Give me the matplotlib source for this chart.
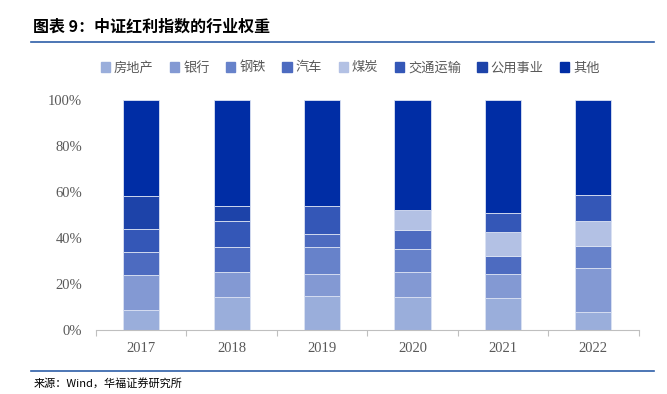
import numpy as np
import matplotlib
matplotlib.use("Agg")
import matplotlib.pyplot as plt
from matplotlib.lines import Line2D

plt.rcParams['font.family'] = ['Noto Sans CJK SC', 'DejaVu Sans']

years = ["2017", "2018", "2019", "2020", "2021", "2022"]
sectors = ["房地产", "银行", "钢铁", "汽车", "煤炭", "交通运输", "公用事业", "其他"]
colors = ["#9aaedb", "#8399d3", "#6782ca", "#4d6bc0", "#b3c1e4", "#3457b7", "#1d43a9", "#002da5"]

# weights (%), bottom to top
real_estate = [8.9, 14.4, 15.0, 14.6, 14.1, 8.2]
banks       = [15.2, 10.9, 9.4, 10.8, 10.5, 19.0]
steel       = [0.0, 0.0, 11.8, 10.0, 0.0, 9.5]
autos       = [10.0, 10.9, 5.8, 8.4, 7.5, 0.0]
coal        = [0.0, 0.0, 0.0, 8.3, 10.7, 10.6]
transport   = [10.0, 11.4, 12.1, 0.0, 8.2, 11.6]
utilities   = [14.4, 6.5, 0.0, 0.0, 0.0, 0.0]
others      = [41.5, 45.9, 45.9, 47.9, 49.0, 41.1]

series = [real_estate, banks, steel, autos, coal, transport, utilities, others]

fig = plt.figure(figsize=(6.67, 3.94), dpi=100)
ax = fig.add_axes([0.1439, 0.1612, 0.8135, 0.585])

x = np.arange(len(years))
bottom = np.zeros(len(years))
for name, vals, c in zip(sectors, series, colors):
    vals = np.array(vals)
    ax.bar(x, vals, width=0.4, bottom=bottom, color=c, edgecolor="#dbe2f3",
           linewidth=0.6, label=name)
    bottom += vals

ax.set_xlim(-0.5, len(years) - 0.5)
ax.set_ylim(0, 100)
ax.set_yticks(np.arange(0, 101, 20))
ax.set_yticklabels([f"{v}%" for v in range(0, 101, 20)],
                   family="Liberation Serif", fontsize=10.5, color="#595959")
ax.set_xticks(x)
ax.set_xticklabels(years, family="Liberation Serif", fontsize=10.5, color="#595959")
ax.set_xticks(np.arange(-0.5, len(years), 1), minor=True)
ax.tick_params(axis="x", which="major", length=0, pad=8)
ax.tick_params(axis="x", which="minor", length=4, color="#bfbfbf", width=0.8)
ax.tick_params(axis="y", length=0, pad=10)
for s in ["top", "right", "left"]:
    ax.spines[s].set_visible(False)
ax.spines["bottom"].set_color("#bfbfbf")
ax.spines["bottom"].set_linewidth(0.8)

handles = [plt.Rectangle((0, 0), 1, 1, color=c) for c in colors]
fig.legend(handles, sectors, loc="center", bbox_to_anchor=(0.525, 1 - 68 / 394),
           ncol=8, frameon=False, fontsize=9.5, handlelength=0.7, handleheight=0.7,
           handletextpad=0.3, columnspacing=1.25, labelcolor="#595959")

fig.text(0.05, 1 - 27 / 394, "图表 9：中证红利指数的行业权重", fontsize=11.5,
         fontweight="bold", va="center", ha="left", color="#000000")
fig.add_artist(Line2D([0.047, 0.98], [1 - 42 / 394] * 2, color="#2e5fa8", lw=1.2))
fig.add_artist(Line2D([0.047, 0.98], [1 - 371 / 394] * 2, color="#2e5fa8", lw=1.2))
fig.text(0.05, 1 - 383 / 394, "来源：Wind，华福证券研究所", fontsize=8,
         va="center", ha="left", color="#000000")

fig.savefig("out.png", dpi=100)
